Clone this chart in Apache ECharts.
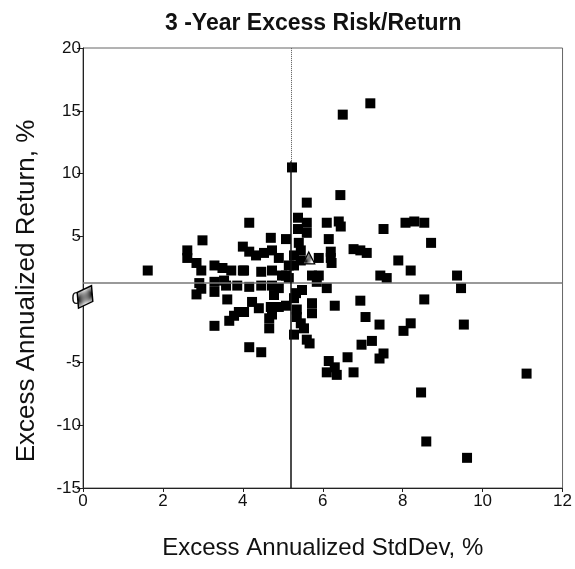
<!DOCTYPE html>
<html>
<head>
<meta charset="utf-8">
<script src="https://cdn.jsdelivr.net/npm/echarts@6/dist/echarts.min.js"></script>
<style>html,body{margin:0;padding:0;background:#fff;}#c{width:575px;height:569px;}</style>
</head>
<body>
<div id="c"></div>
<script>
// Fund points: [Excess Annualized StdDev %, Excess Annualized Return %]
const stdDev = [7.19,6.50,5.23,6.44,5.6, 4.16,5.38,5.6,5.6,5.38,2.99,4.7,5.08,5.4,
 2.61,2.61,4.0,4.16,4.33,4.53,4.73,5.45,5.28,5.28,5.45,5.9,6.2,5.15,4.03,4.46,4.73,5.08,4.9,
 6.1,6.4,6.45,7.52,8.07,8.29,8.54,8.71,6.15,6.2,6.77,6.94,7.1,7.89,8.2,6.22,
 1.62,2.84,2.96,3.29,3.49,3.71,4.0,4.98,5.15,
 2.91,2.96,2.84,3.29,3.29,3.53,3.58,3.86,3.61,3.29,3.66,3.78,3.9,
 4.16,4.46,4.73,4.9,4.78,4.23,4.03,4.4,4.7,4.9,4.66,4.73,4.66,5.08,5.33,5.48,5.28,5.35,5.35,
 5.73,5.73,6.3,6.1,5.85,5.73,5.9,5.45,5.53,5.28,5.6,5.67,4.16,4.46,6.15,6.1,6.35,
 7.44,7.6,9.36,9.46,6.94,8.54,7.07,7.42,8.2,8.02,9.53,7.23,6.97,7.52,7.42,6.62,6.77,6.3,
 11.1,8.46,8.59,9.61];
const excessReturn = [15.6,14.7,10.5,8.3,7.7, 6.1,6.5,6.1,5.3,5.6,4.7,4.9,4.8,4.5,
 3.9,3.3,4.2,3.8,3.5,3.7,3.9,3.9,3.5,2.7,3.1,3.3,3.3,2.7,2.3,2.2,2.3,1.9,3.3,
 6.1,6.2,5.8,5.6,6.1,6.2,6.1,4.5,4.8,3.8,4.0,3.9,3.7,3.1,2.3,2.9,
 2.3,2.9,2.3,2.7,2.5,2.3,2.3,1.9,1.7,
 1.3,0.85,0.4,1.4,0.6,1.5,1.1,1.1,0.0,-2.1,-1.7,-1.3,-1.0,
 1.0,1.1,1.1,0.9,0.35,-0.2,-1.0,-0.7,-0.6,-0.6,-1.5,-1.2,-2.3,-0.5,0.5,0.75,0.1,-0.8,-1.4,
 -0.3,-1.1,-0.5,0.9,1.4,1.9,1.9,-1.9,-2.3,-2.8,-3.2,-3.5,-3.8,-4.2,-4.9,-5.8,-6.0,
 1.9,1.7,1.9,0.9,-0.1,0.0,-1.4,-2.0,-1.9,-2.5,-2.0,-3.3,-3.6,-4.3,-4.7,-4.6,-5.8,-5.4,
 -5.9,-7.4,-11.3,-12.6];
const benchmark = [0.05, 0.2];
const peerMarker = [[5.65, 3.3]];
const refReturn = 1.3;
const refStdDev = 5.2;
const xTicks = [0,2,4,6,8,10,12];
const yTicks = [-15,-10,-5,0,5,10,15,20];

const funds = stdDev.map((x,i)=>[x, excessReturn[i]]);

// hatch pattern
const pc = document.createElement('canvas');
pc.width = 7; pc.height = 7;
const g = pc.getContext('2d');
g.fillStyle = '#fff'; g.fillRect(0,0,7,7);
g.strokeStyle = '#000'; g.lineWidth = 1;
g.beginPath(); g.moveTo(0,7); g.lineTo(7,0); g.stroke();
g.beginPath(); g.moveTo(-1,1); g.lineTo(1,-1); g.stroke();
g.beginPath(); g.moveTo(6,8); g.lineTo(8,6); g.stroke();

const chart = echarts.init(document.getElementById('c'));
const font = 'Liberation Sans, Arial, sans-serif';
chart.setOption({
  animation: false,
  title: {
    text: '3 -Year Excess Risk/Return',
    left: 160, top: 7,
    textStyle: {fontFamily: font, fontSize: 23, fontWeight: 'bold', color: '#111'}
  },
  graphic: [{
    type: 'text', x: 27, y: 291, rotation: Math.PI / 2,
    style: {text: 'Excess Annualized Return, %', font: '26px Liberation Sans, Arial, sans-serif',
      fill: '#111', align: 'center', verticalAlign: 'middle'}
  }],
  grid: {left: 83, right: 10, top: 48, bottom: 81, show: true, borderColor: '#666', borderWidth: 1},
  xAxis: {
    type: 'value', min: 0, max: 12, interval: 2,
    name: 'Excess Annualized StdDev, %', nameLocation: 'middle', nameGap: 48,
    nameTextStyle: {fontFamily: font, fontSize: 24, color: '#111'},
    axisLine: {show: true, onZero: false, lineStyle: {color: '#222'}},
    axisTick: {show: true, length: 4, lineStyle: {color: '#222'}},
    axisLabel: {fontFamily: font, fontSize: 17, color: '#111', margin: 5,
      formatter: v => xTicks.includes(v) ? String(v) : ''},
    splitLine: {show: false}
  },
  yAxis: {
    type: 'value', min: -15, max: 20, interval: 5,
    axisLine: {show: true, onZero: false, lineStyle: {color: '#222'}},
    axisTick: {show: true, length: 6, lineStyle: {color: '#222'}},
    axisLabel: {fontFamily: font, fontSize: 17, color: '#111', margin: 2,
      formatter: v => yTicks.includes(v) ? String(v) : ''},
    splitLine: {show: false}
  },
  series: [
    {
      type: 'scatter', data: funds, symbol: 'rect', symbolSize: 10,
      itemStyle: {color: '#000', opacity: 1}, z: 3,
      markLine: {
        silent: true, symbol: 'none', label: {show: false},
        data: [
          [{coord: [0, refReturn], lineStyle: {color: '#777', width: 1.5, type: 'solid'}}, {coord: [12, refReturn]}],
          [{coord: [refStdDev, -15], lineStyle: {color: '#111', width: 1.5, type: 'solid'}}, {coord: [refStdDev, 11]}],
          [{coord: [refStdDev, 11], lineStyle: {color: '#555', width: 1, type: 'dotted'}}, {coord: [refStdDev, 20]}]
        ]
      },
      markPoint: {
        silent: true, label: {show: false},
        data: [{coord: benchmark, symbol: 'diamond', symbolSize: [18, 26], symbolRotate: -30,
          itemStyle: {color: {image: pc, repeat: 'repeat'}, borderColor: '#000', borderWidth: 1.5, opacity: 1}}]
      }
    },
    {
      type: 'scatter', data: peerMarker, symbol: 'triangle', symbolSize: 12,
      itemStyle: {color: {image: pc, repeat: 'repeat'}, borderColor: '#000', borderWidth: 1.2, opacity: 1}, z: 5
    }
  ]
});
</script>
</body>
</html>
